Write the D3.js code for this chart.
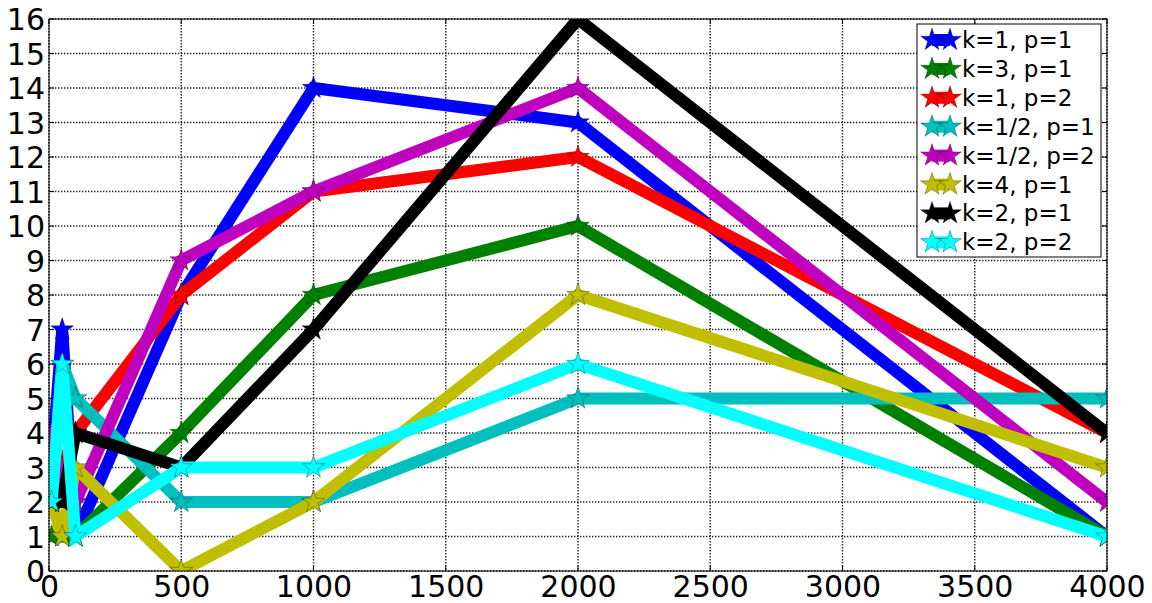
<!DOCTYPE html>
<html><head><meta charset="utf-8">
<script src="https://cdn.jsdelivr.net/npm/d3@7"></script>
<style>body{margin:0;background:#fff;} svg{display:block;}</style>
</head><body>
<svg id="chart" width="1152" height="603"></svg>
<script>
const xValues = [10, 50, 100, 500, 1000, 2000, 4000];
const seriesNames = ["k=1, p=1","k=3, p=1","k=1, p=2","k=1/2, p=1","k=1/2, p=2","k=4, p=1","k=2, p=1","k=2, p=2"];
const seriesColors = ["#0000ff","#008000","#ff0000","#00bfbf","#bf00bf","#bfbf00","#000000","#00ffff"];
const blueVals    = [3, 7, 1, 8, 14, 13, 1];
const greenVals   = [1, 1, 1, 4, 8, 10, 1];
const redVals     = [2, 3, 4, 8, 11, 12, 4];
const tealVals    = [2, 6, 5, 2, 2, 5, 5];
const magentaVals = [4, 2, 2, 9, 11, 14, 2];
const yellowVals  = [2, 1, 3, 0, 2, 8, 3];
const blackVals   = [2, 2, 4, 3, 7, 16, 4];
const cyanVals    = [2, 6, 1, 3, 3, 6, 1];
const seriesValues = [blueVals, greenVals, redVals, tealVals, magentaVals, yellowVals, blackVals, cyanVals];
const xTicks = [0, 500, 1000, 1500, 2000, 2500, 3000, 3500, 4000];
const yTicks = d3.range(0, 17);

const svg = d3.select("#chart");
const L = 49, R = 1107, T = 19, B = 571;
const x = d3.scaleLinear().domain([0, 4000]).range([L, R]);
const y = d3.scaleLinear().domain([0, 16]).range([B, T]);

svg.append("defs").append("clipPath").attr("id", "clip")
  .append("rect").attr("x", L).attr("y", T).attr("width", R - L).attr("height", B - T);

// grid
const grid = svg.append("g");
grid.selectAll("line.gx").data(xTicks).join("line")
  .attr("x1", d => x(d)).attr("x2", d => x(d)).attr("y1", T).attr("y2", B)
  .attr("stroke", "#222").attr("stroke-width", 1.4).attr("stroke-dasharray", "1.4,1.6");
grid.selectAll("line.gy").data(yTicks).join("line")
  .attr("y1", d => y(d)).attr("y2", d => y(d)).attr("x1", L).attr("x2", R)
  .attr("stroke", "#222").attr("stroke-width", 1.4).attr("stroke-dasharray", "1.4,1.6");

// axes
const fontFam = "DejaVu Sans, sans-serif";
const xAxis = d3.axisBottom(x).tickValues(xTicks).tickSize(6).tickPadding(2).tickFormat(d3.format("d"));
const yAxis = d3.axisLeft(y).tickValues(yTicks).tickSize(6).tickPadding(4);
const gx = svg.append("g").attr("transform", `translate(0,${B})`).call(xAxis);
const gy = svg.append("g").attr("transform", `translate(${L},0)`).call(yAxis);
[gx, gy].forEach(g => {
  g.select(".domain").remove();
  g.selectAll(".tick line").remove();
  g.selectAll("text").attr("font-family", fontFam).attr("font-size", 30).attr("fill", "#000");
});
gy.selectAll("text").attr("dy", "0.35em").attr("x", -4);
gx.selectAll("text").attr("dy", "0.75em").attr("y", 3);

// inside ticks
const ticks = svg.append("g").attr("stroke", "#000").attr("stroke-width", 1);
xTicks.forEach(t => {
  ticks.append("line").attr("x1", x(t)).attr("x2", x(t)).attr("y1", B).attr("y2", B - 5);
  ticks.append("line").attr("x1", x(t)).attr("x2", x(t)).attr("y1", T).attr("y2", T + 5);
});
yTicks.forEach(t => {
  ticks.append("line").attr("y1", y(t)).attr("y2", y(t)).attr("x1", L).attr("x2", L + 5);
  ticks.append("line").attr("y1", y(t)).attr("y2", y(t)).attr("x1", R).attr("x2", R - 5);
});

// star path
function starPath(r) {
  const pts = [];
  const ri = r * 0.381966;
  for (let i = 0; i < 10; i++) {
    const a = -Math.PI / 2 + i * Math.PI / 5;
    const rr = i % 2 === 0 ? r : ri;
    pts.push([rr * Math.cos(a), rr * Math.sin(a)]);
  }
  return "M" + pts.map(p => p[0].toFixed(2) + "," + p[1].toFixed(2)).join("L") + "Z";
}
const star = starPath(12);

const plot = svg.append("g").attr("clip-path", "url(#clip)");
const line = d3.line().x((d, i) => x(xValues[i])).y(d => y(d));
seriesValues.forEach((vals, si) => {
  const g = plot.append("g");
  g.append("path").datum(vals).attr("d", line)
    .attr("fill", "none").attr("stroke", seriesColors[si]).attr("stroke-width", 12)
    .attr("stroke-linejoin", "miter").attr("stroke-miterlimit", 4).attr("stroke-linecap", "butt");
  g.selectAll("path.m").data(vals).join("path").attr("class", "m")
    .attr("d", star)
    .attr("transform", (d, i) => `translate(${x(xValues[i])},${y(d)})`)
    .attr("fill", seriesColors[si]).attr("stroke", "#000").attr("stroke-width", 0.5).attr("stroke-opacity", 0.6);
});

// frame
svg.append("rect").attr("x", L).attr("y", T).attr("width", R - L).attr("height", B - T)
  .attr("fill", "none").attr("stroke", "#000").attr("stroke-width", 1);

// legend
const lg = svg.append("g");
const lx = 917, ly = 24, lw = 184, lh = 233;
lg.append("rect").attr("x", lx).attr("y", ly).attr("width", lw).attr("height", lh)
  .attr("fill", "#fff").attr("stroke", "#000").attr("stroke-width", 1);
seriesNames.forEach((name, i) => {
  const cy = 40 + i * 28.9;
  lg.append("line").attr("x1", 932).attr("x2", 950).attr("y1", cy).attr("y2", cy)
    .attr("stroke", seriesColors[i]).attr("stroke-width", 12);
  [932, 950].forEach(cx => {
    lg.append("path").attr("d", star).attr("transform", `translate(${cx},${cy})`)
      .attr("fill", seriesColors[i]).attr("stroke", "#000").attr("stroke-width", 0.5).attr("stroke-opacity", 0.6);
  });
  lg.append("text").attr("x", 962).attr("y", cy).attr("dy", "0.35em")
    .attr("font-family", fontFam).attr("font-size", 23).attr("fill", "#000").text(name);
});
</script>
</body></html>
